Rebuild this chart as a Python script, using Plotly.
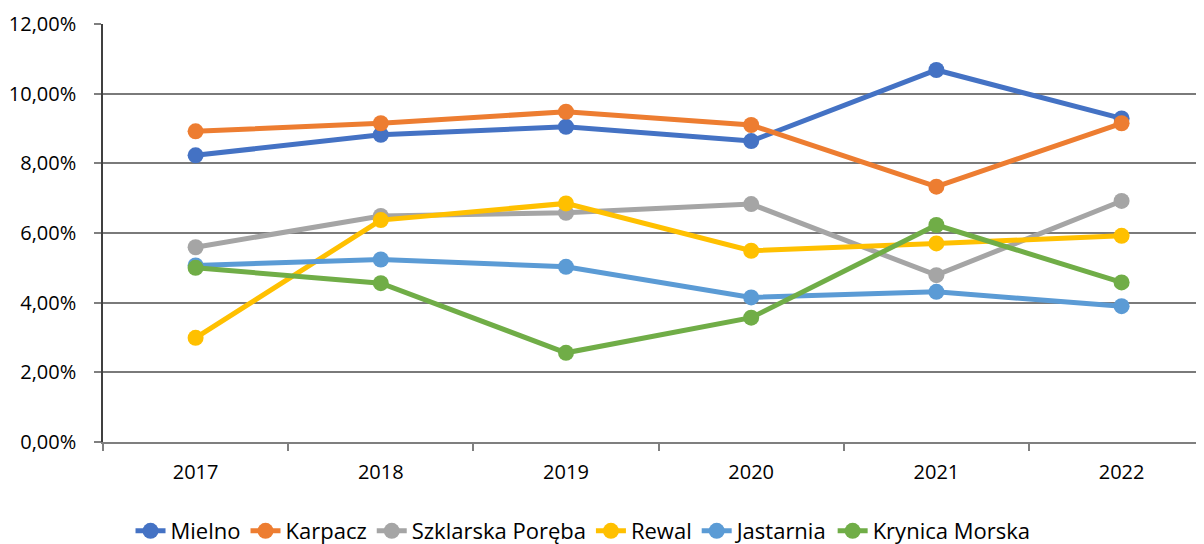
import plotly.graph_objects as go

years = ["2017", "2018", "2019", "2020", "2021", "2022"]
mielno = [8.23, 8.82, 9.05, 8.64, 10.68, 9.29]
karpacz = [8.92, 9.15, 9.48, 9.10, 7.33, 9.15]
szklarska = [5.59, 6.49, 6.58, 6.83, 4.79, 6.92]
rewal = [2.99, 6.37, 6.85, 5.49, 5.70, 5.92]
jastarnia = [5.07, 5.24, 5.03, 4.15, 4.31, 3.90]
krynica = [5.00, 4.56, 2.56, 3.57, 6.23, 4.58]

names = ["Mielno", "Karpacz", "Szklarska Poręba", "Rewal", "Jastarnia", "Krynica Morska"]
series = [mielno, karpacz, szklarska, rewal, jastarnia, krynica]
colors = ["#4472C4", "#ED7D31", "#A5A5A5", "#FFC000", "#5B9BD5", "#70AD47"]

FONT = "Open Sans"

fig = go.Figure()
for n, s, c in zip(names, series, colors):
    fig.add_trace(go.Scatter(
        x=years, y=s, name=n, mode="lines+markers",
        line=dict(color=c, width=5),
        marker=dict(color=c, size=16),
    ))

# page body has an 8px margin, so the figure is shifted by 8px
fig.update_layout(
    width=1196, height=536,
    margin=dict(l=95, r=0, t=16, b=102, autoexpand=False),
    paper_bgcolor="white", plot_bgcolor="white",
    separators=",.",
    font=dict(family=FONT, size=20, color="#000000"),
    showlegend=True,
    legend=dict(
        orientation="h", x=0.025, xanchor="left", y=-0.213, yanchor="middle",
        font=dict(family=FONT, size=22, color="#000000"),
        itemwidth=30, tracegroupgap=0,
    ),
)

fig.update_xaxes(
    type="category", range=[-0.5, 5.445], automargin=False,
    showgrid=False, showline=True, linecolor="#7f7f7f", linewidth=1.5,
    ticks="outside", tickson="boundaries", ticklen=7, tickcolor="#7f7f7f", tickwidth=1.5,
    ticklabelstandoff=11, fixedrange=True,
)
fig.update_yaxes(
    range=[0, 12], dtick=2, tick0=0, automargin=False,
    tickformat=".2f", ticksuffix="%",
    showgrid=True, gridcolor="#7a7a7a", gridwidth=1.5,
    showline=True, linecolor="#404040", linewidth=1.5,
    ticks="outside", ticklen=7, tickcolor="#7f7f7f", tickwidth=1.5,
    ticklabelstandoff=14, zeroline=False, fixedrange=True,
)

fig.write_html("out.html")
